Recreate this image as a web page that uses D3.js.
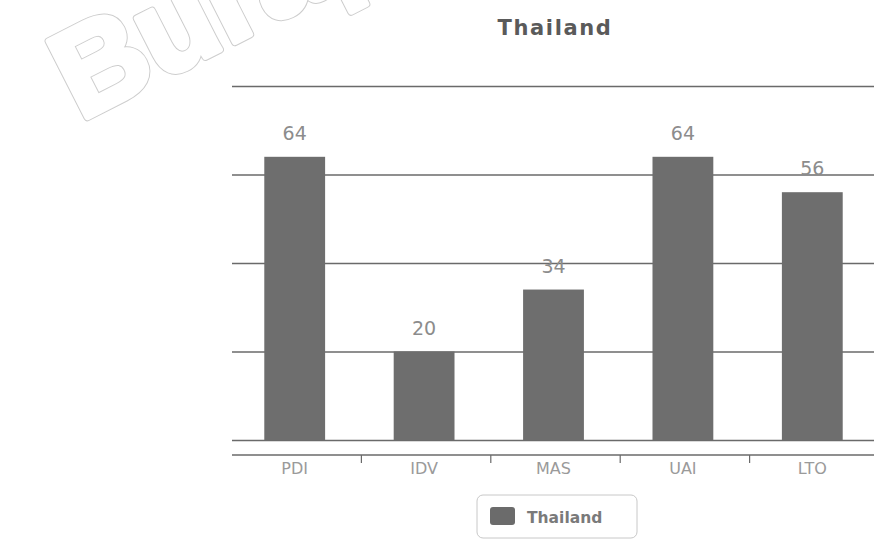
<!DOCTYPE html>
<html>
<head>
<meta charset="utf-8">
<script src="https://cdn.jsdelivr.net/npm/d3@7"></script>
<style>
  html, body { margin: 0; padding: 0; background: #ffffff; }
  svg { display: block; }
</style>
</head>
<body>
<div id="chart"></div>
<script>
const categories = ["PDI", "IDV", "MAS", "UAI", "LTO"];
const seriesName = "Thailand";
const values = [64, 20, 34, 64, 56];
const yTicks = [0, 20, 40, 60, 80];
const chartTitle = "Thailand";
const watermarkText = "Burapha";

const W = 874, H = 542;
const svg = d3.select("#chart").append("svg").attr("width", W).attr("height", H);

svg.append("rect").attr("width", W).attr("height", H).attr("fill", "#ffffff");

// watermark (offset outline)
const wm = svg.append("g").attr("transform", "translate(80,121) rotate(-27)");
wm.append("text")
  .attr("font-family", "Liberation Sans").attr("font-weight", "bold").attr("font-size", 124)
  .attr("fill", "#cdcdcd").attr("stroke", "#cdcdcd").attr("stroke-width", 8)
  .attr("stroke-linejoin", "round")
  .text(watermarkText);
wm.append("text")
  .attr("font-family", "Liberation Sans").attr("font-weight", "bold").attr("font-size", 124)
  .attr("fill", "#ffffff").attr("stroke", "#ffffff").attr("stroke-width", 6)
  .attr("stroke-linejoin", "round")
  .text(watermarkText);

const x = d3.scaleBand().domain(categories).range([230, 877]).paddingInner(0.53).paddingOuter(0.265);
const y = d3.scaleLinear().domain([0, 80]).range([440, 86]);

// title
svg.append("text")
  .attr("x", 555).attr("y", 35)
  .attr("text-anchor", "middle")
  .attr("font-family", "DejaVu Sans")
  .attr("font-weight", "bold")
  .attr("font-size", 21)
  .attr("letter-spacing", 1.6)
  .attr("fill", "#5a5a5a")
  .text(chartTitle);

// gridlines
const grid = svg.append("g")
  .call(d3.axisLeft(y).tickValues(yTicks).tickSize(-(W - 232)).tickFormat(""))
  .attr("transform", "translate(232,0)");
grid.select(".domain").remove();
grid.selectAll(".tick line").attr("stroke", "#6a6a6a").attr("stroke-width", 1.4);

// bars
svg.append("g").selectAll("rect").data(values).join("rect")
  .attr("x", (d, i) => x(categories[i]))
  .attr("y", d => y(d))
  .attr("width", x.bandwidth())
  .attr("height", d => y(0) - y(d))
  .attr("fill", "#6e6e6e");

// value labels
svg.append("g").selectAll("text").data(values).join("text")
  .attr("x", (d, i) => x(categories[i]) + x.bandwidth() / 2)
  .attr("y", d => y(d) - 17)
  .attr("text-anchor", "middle")
  .attr("font-family", "DejaVu Sans")
  .attr("font-size", 19)
  .attr("fill", "#8c8c8c")
  .text(d => d);

// category axis
const xAxis = svg.append("g").attr("transform", "translate(0,455)")
  .call(d3.axisBottom(x).tickSize(0).tickPadding(8));
xAxis.select(".domain").attr("d", `M232,0H${W}`).attr("stroke", "#6a6a6a").attr("stroke-width", 1.4);
xAxis.selectAll(".tick text")
  .attr("font-family", "DejaVu Sans")
  .attr("font-size", 16)
  .attr("fill", "#9a9a9a")
  .attr("dy", "0.71em");

// separator ticks between categories
const seps = categories.slice(1).map(c => x(c) - x.step() * x.paddingInner() / 2 + 2);
svg.append("g").selectAll("line").data(seps).join("line")
  .attr("x1", d => d).attr("x2", d => d)
  .attr("y1", 455).attr("y2", 463)
  .attr("stroke", "#6a6a6a").attr("stroke-width", 1.2);

// legend
const lg = svg.append("g");
lg.append("rect").attr("x", 477).attr("y", 495).attr("width", 160).attr("height", 43)
  .attr("rx", 6).attr("fill", "#ffffff").attr("stroke", "#c8c8c8");
lg.append("rect").attr("x", 490).attr("y", 507).attr("width", 25).attr("height", 18)
  .attr("rx", 3).attr("fill", "#6b6b6b");
lg.append("text").attr("x", 527).attr("y", 523)
  .attr("font-family", "DejaVu Sans").attr("font-weight", "bold").attr("font-size", 15.5)
  .attr("fill", "#7a7a7a").text(seriesName);
</script>
</body>
</html>
